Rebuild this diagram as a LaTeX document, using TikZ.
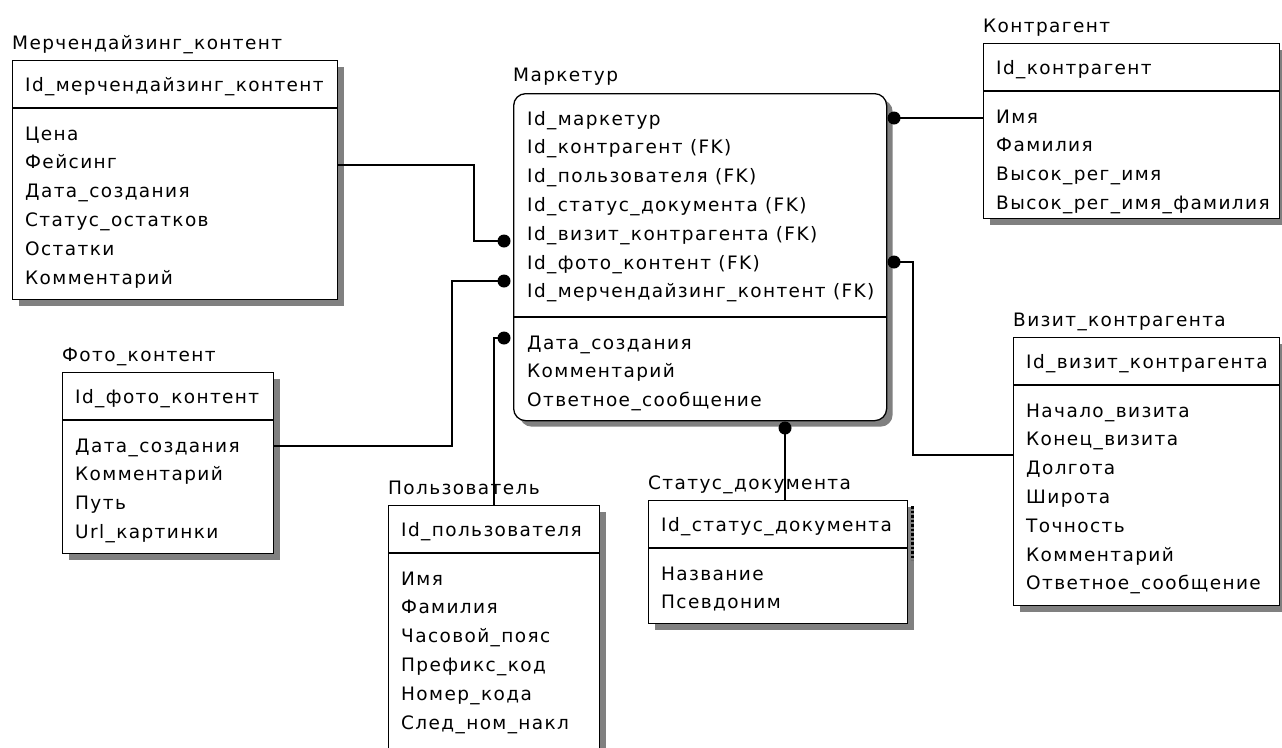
\documentclass[tikz,border=0pt]{standalone}
\usepackage{fontspec}
\setmainfont{DejaVu Sans}
\newfontfamily\erfamily[LetterSpace=7.5]{DejaVu Sans}
\usetikzlibrary{shadows}

% one table of the schema: box, key section, attribute rows
% #1 name, #2 left, #3 top, #4 width, #5 bottom, #6 title, #7 key, #8 rows
\newcommand\erentity[8]{%
  \node[box, minimum width=#4pt, minimum height={(#5-#3)*1pt}] (#1) at (#2,#3) {};
  \draw[line width=1.3pt] (#2,{#3+48}) -- ({#2+#4},{#3+48});
  \node[lbl] (#1-title) at (#2,{#3-11}) {#6};
  \node[lbl] (#1-key) at ({#2+13},{#3+31.5}) {#7};
  \foreach \t [count=\i] in {#8}
    \node[lbl] (#1-row\i) at ({#2+13},{#3+80+(\i-1)*28.8}) {\t};
}

\begin{document}
\begin{tikzpicture}[x=1pt,y=-1pt,
  box/.style={draw=black, line width=1.3pt, fill=white, anchor=north west,
    inner sep=0pt, drop shadow={shadow xshift=6pt, shadow yshift=-6pt,
    fill=black!50, opacity=1}},
  lbl/.style={anchor=base west, inner sep=0pt, text=black,
    font=\erfamily\fontsize{18.5}{22}\selectfont},
  link/.style={draw=black, line width=1.3pt},
  dot/.style={fill=black}]
\useasboundingbox (0,0) rectangle (1282,747);

% relationship lines
\coordinate (mk-kontr) at (894,118);
\coordinate (mk-viz) at (894,262);
\coordinate (viz-bend) at (913,455);
\coordinate (mk-merch) at (504,241);
\coordinate (merch-bend) at (474,165);
\coordinate (mk-foto) at (504,281);
\coordinate (foto-bend) at (452,446);
\coordinate (mk-polz) at (504,338);
\coordinate (polz-bend) at (494,338);
\coordinate (mk-stat) at (785,428);

% tables
\erentity{merch}{12}{60}{325}{299}{Мерчендайзинг\_контент}{Id\_мерчендайзинг\_контент}
  {Цена,Фейсинг,Дата\_создания,Статус\_остатков,Остатки,Комментарий}
\erentity{kontr}{983}{43}{296}{218}{Контрагент}{Id\_контрагент}
  {Имя,Фамилия,Высок\_рег\_имя,Высок\_рег\_имя\_фамилия}
\erentity{vizit}{1013}{337}{266}{605}{Визит\_контрагента}{Id\_визит\_контрагента}
  {Начало\_визита,Конец\_визита,Долгота,Широта,Точность,Комментарий,Ответное\_сообщение}
\erentity{foto}{62}{372}{211}{553}{Фото\_контент}{Id\_фото\_контент}
  {Дата\_создания,Комментарий,Путь,Url\_картинки}
\erentity{polz}{388}{505}{211}{752}{Пользователь}{Id\_пользователя}
  {Имя,Фамилия,Часовой\_пояс,Префикс\_код,Номер\_кода,След\_ном\_накл}
\erentity{status}{648}{500}{259}{623}{Статус\_документа}{Id\_статус\_документа}
  {Название,Псевдоним}

% central table with rounded corners
\node[box, rounded corners=12pt, minimum width=373pt, minimum height=327pt] (mkt) at (513,93) {};
\draw[line width=1.3pt] (513,317) -- (886,317);
\node[lbl] (mkt-title) at (513,81) {Маркетур};
\foreach \t [count=\i] in {Id\_маркетур,Id\_контрагент (FK),Id\_пользователя (FK),
  Id\_статус\_документа (FK),Id\_визит\_контрагента (FK),Id\_фото\_контент (FK),
  Id\_мерчендайзинг\_контент (FK)}
  \node[lbl] (mkt-key\i) at (527,{125+(\i-1)*28.8}) {\t};
\foreach \t [count=\i] in {Дата\_создания,Комментарий,Ответное\_сообщение}
  \node[lbl] (mkt-row\i) at (527,{349+(\i-1)*28.8}) {\t};

% connectors
\draw[link] (mk-kontr) -- (kontr.west |- mk-kontr);
\draw[link] (mk-viz) -| (viz-bend) -- (vizit.west |- viz-bend);
\draw[link] (merch.east |- merch-bend) -- (merch-bend) |- (mk-merch);
\draw[link] (foto.east |- foto-bend) -- (foto-bend) |- (mk-foto);
\draw[link] (mk-polz) -- (polz-bend) -- (polz.north -| polz-bend);
\draw[link] (mk-stat) -- (status.north -| mk-stat);
\foreach \d in {mk-kontr,mk-viz,mk-merch,mk-foto,mk-polz,mk-stat}
  \fill[dot] (\d) circle[radius=6.5pt];

% dotted strip on the status table shadow
\draw[line width=3pt, dash pattern=on 2.5pt off 2pt] (912,506) -- (912,560);
\end{tikzpicture}
\end{document}
